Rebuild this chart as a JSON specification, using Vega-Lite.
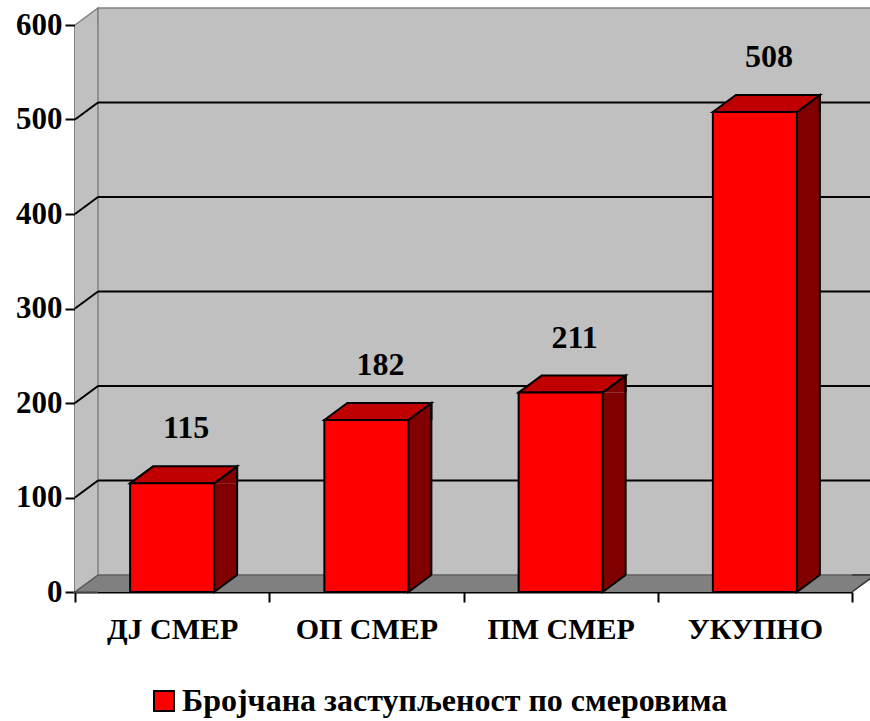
{
  "$schema": "https://vega.github.io/schema/vega-lite/v6.json",
  "width": 777,
  "height": 567,
  "autosize": {"type": "none"},
  "padding": {"left": 75, "top": 25, "right": 18, "bottom": 129},
  "background": "white",
  "config": {
    "view": {"stroke": null},
    "axis": {"grid": false, "domainColor": "black", "domainWidth": 2, "tickColor": "black", "tickWidth": 2, "tickSize": 10, "labelFont": "Liberation Serif", "labelFontWeight": "bold", "labelColor": "black", "zindex": 1},
    "axisX": {"labelFontSize": 30, "labelPadding": 12, "labelAngle": 0, "tickBand": "extent"},
    "axisY": {"labelFontSize": 31, "labelPadding": 3}
  },
  "datasets": {
    "bars": [
      {"smer": "ДЈ СМЕР", "broj": 115, "serija": "Бројчана заступљеност по смеровима"},
      {"smer": "ОП СМЕР", "broj": 182, "serija": "Бројчана заступљеност по смеровима"},
      {"smer": "ПМ СМЕР", "broj": 211, "serija": "Бројчана заступљеност по смеровима"},
      {"smer": "УКУПНО", "broj": 508, "serija": "Бројчана заступљеност по смеровима"}
    ],
    "grid": [{"v": 100}, {"v": 200}, {"v": 300}, {"v": 400}, {"v": 500}],
    "frame": [{"part": "frame"}]
  },
  "layer": [
    {
      "data": {"name": "bars"},
      "mark": {"type": "bar", "width": {"band": 0.4324}, "stroke": "black", "strokeWidth": 2, "opacity": 0},
      "encoding": {
        "x": {
          "field": "smer", "type": "nominal", "title": null,
          "scale": {"domain": ["ДЈ СМЕР", "ОП СМЕР", "ПМ СМЕР", "УКУПНО"], "paddingInner": 0, "paddingOuter": 0},
          "axis": {"title": null, "orient": "bottom"}
        },
        "y": {
          "field": "broj", "type": "quantitative", "title": null,
          "scale": {"domain": [0, 600], "nice": false},
          "axis": {"title": null, "values": [0, 100, 200, 300, 400, 500, 600]}
        }
      }
    },
    {
      "data": {"name": "frame"},
      "mark": {"type": "rule", "color": "#c0c0c0", "strokeWidth": 23, "strokeCap": "butt", "xOffset": 11.5, "y2Offset": -17},
      "encoding": {
        "x": {"datum": "ДЈ СМЕР", "type": "nominal", "bandPosition": 0, "title": null},
        "y": {"datum": 600, "type": "quantitative", "title": null},
        "y2": {"datum": 0}
      }
    },
    {
      "data": {"name": "frame"},
      "mark": {"type": "point", "shape": "M23,0 L23,-17 L0,0", "size": 4, "filled": true, "fill": "#c0c0c0", "stroke": "#808080", "strokeWidth": 1.5, "opacity": 1},
      "encoding": {
        "x": {"datum": "ДЈ СМЕР", "type": "nominal", "bandPosition": 0, "title": null},
        "y": {"datum": 600, "type": "quantitative", "title": null}
      }
    },
    {
      "data": {"name": "frame"},
      "mark": {"type": "point", "shape": "M0,-17 L23,-17 L0,0 Z", "size": 4, "filled": true, "fill": "#c0c0c0", "strokeWidth": 0, "opacity": 1},
      "encoding": {
        "x": {"datum": "ДЈ СМЕР", "type": "nominal", "bandPosition": 0, "title": null},
        "y": {"datum": 0, "type": "quantitative", "title": null}
      }
    },
    {
      "data": {"name": "frame"},
      "mark": {"type": "rule", "color": "#c0c0c0", "strokeWidth": 567, "strokeCap": "butt", "xOffset": 23, "x2Offset": 23, "yOffset": -17, "y2Offset": -17},
      "encoding": {
        "x": {"datum": "ДЈ СМЕР", "type": "nominal", "bandPosition": 0, "title": null},
        "x2": {"datum": "УКУПНО", "bandPosition": 1},
        "y": {"datum": 300, "type": "quantitative", "title": null}
      }
    },
    {
      "data": {"name": "frame"},
      "mark": {"type": "rule", "color": "#808080", "strokeWidth": 1.5, "xOffset": 23, "x2Offset": 23, "yOffset": -17, "y2Offset": -17},
      "encoding": {
        "x": {"datum": "ДЈ СМЕР", "type": "nominal", "bandPosition": 0, "title": null},
        "x2": {"datum": "УКУПНО", "bandPosition": 1},
        "y": {"datum": 600, "type": "quantitative", "title": null}
      }
    },
    {
      "data": {"name": "frame"},
      "mark": {"type": "rule", "color": "#808080", "strokeWidth": 1.5, "xOffset": 23, "yOffset": -17, "y2Offset": -17},
      "encoding": {
        "x": {"datum": "ДЈ СМЕР", "type": "nominal", "bandPosition": 0, "title": null},
        "y": {"datum": 600, "type": "quantitative", "title": null},
        "y2": {"datum": 0}
      }
    },
    {
      "data": {"name": "grid"},
      "mark": {"type": "rule", "color": "black", "strokeWidth": 2, "xOffset": 23, "x2Offset": 23, "yOffset": -17, "y2Offset": -17},
      "encoding": {
        "x": {"datum": "ДЈ СМЕР", "type": "nominal", "bandPosition": 0, "title": null},
        "x2": {"datum": "УКУПНО", "bandPosition": 1},
        "y": {"field": "v", "type": "quantitative", "title": null}
      }
    },
    {
      "data": {"name": "grid"},
      "mark": {"type": "point", "shape": "M0,0 L23,-17", "size": 4, "filled": false, "stroke": "black", "strokeWidth": 2, "opacity": 1},
      "encoding": {
        "x": {"datum": "ДЈ СМЕР", "type": "nominal", "bandPosition": 0, "title": null},
        "y": {"field": "v", "type": "quantitative", "title": null}
      }
    },
    {
      "data": {"name": "frame"},
      "mark": {"type": "rule", "color": "#808080", "strokeWidth": 17, "strokeCap": "butt", "xOffset": 23, "yOffset": -8.5, "y2Offset": -8.5},
      "encoding": {
        "x": {"datum": "ДЈ СМЕР", "type": "nominal", "bandPosition": 0, "title": null},
        "x2": {"datum": "УКУПНО", "bandPosition": 1},
        "y": {"datum": 0, "type": "quantitative", "title": null}
      }
    },
    {
      "data": {"name": "frame"},
      "mark": {"type": "rule", "color": "#606060", "strokeWidth": 1.5, "xOffset": 23, "x2Offset": 23, "yOffset": -17, "y2Offset": -17},
      "encoding": {
        "x": {"datum": "ДЈ СМЕР", "type": "nominal", "bandPosition": 0, "title": null},
        "x2": {"datum": "УКУПНО", "bandPosition": 1},
        "y": {"datum": 0, "type": "quantitative", "title": null}
      }
    },
    {
      "data": {"name": "frame"},
      "mark": {"type": "point", "shape": "M23,0 L0,0 L23,-17", "size": 4, "filled": true, "fill": "#808080", "stroke": "#555555", "strokeWidth": 1.5, "opacity": 1},
      "encoding": {
        "x": {"datum": "ДЈ СМЕР", "type": "nominal", "bandPosition": 0, "title": null},
        "y": {"datum": 0, "type": "quantitative", "title": null}
      }
    },
    {
      "data": {"name": "frame"},
      "mark": {"type": "point", "shape": "M0,0 L23,-17 L0,-17", "size": 4, "filled": true, "fill": "#808080", "stroke": "#333333", "strokeWidth": 1.5, "opacity": 1},
      "encoding": {
        "x": {"datum": "УКУПНО", "type": "nominal", "bandPosition": 1, "title": null},
        "y": {"datum": 0, "type": "quantitative", "title": null}
      }
    },
    {
      "data": {"name": "bars"},
      "mark": {"type": "rule", "color": "#800000", "strokeWidth": 23, "strokeCap": "butt", "xOffset": 53.5, "y2Offset": -17},
      "encoding": {
        "x": {"field": "smer", "type": "nominal", "title": null},
        "y": {"field": "broj", "type": "quantitative", "title": null},
        "y2": {"datum": 0}
      }
    },
    {
      "data": {"name": "bars"},
      "mark": {"type": "point", "shape": "M42,0 L65,-17 L65,0", "size": 4, "filled": true, "fill": "#800000", "stroke": "black", "strokeWidth": 2, "opacity": 1},
      "encoding": {
        "x": {"field": "smer", "type": "nominal", "title": null},
        "y": {"field": "broj", "type": "quantitative", "title": null}
      }
    },
    {
      "data": {"name": "bars"},
      "mark": {"type": "point", "shape": "M65,-17 L42,0 L42,-17", "size": 4, "filled": true, "fill": "#800000", "stroke": "black", "strokeWidth": 2, "opacity": 1},
      "encoding": {
        "x": {"field": "smer", "type": "nominal", "title": null},
        "y": {"datum": 0, "type": "quantitative", "title": null}
      }
    },
    {
      "data": {"name": "bars"},
      "mark": {"type": "rule", "color": "black", "strokeWidth": 2, "xOffset": 65, "yOffset": -17, "y2Offset": -17},
      "encoding": {
        "x": {"field": "smer", "type": "nominal", "title": null},
        "y": {"field": "broj", "type": "quantitative", "title": null},
        "y2": {"datum": 0}
      }
    },
    {
      "data": {"name": "bars"},
      "mark": {"type": "point", "shape": "M-42,0 L42,0 L65,-17 L-19,-17 Z", "size": 4, "filled": true, "fill": "#c00000", "stroke": "black", "strokeWidth": 2, "opacity": 1},
      "encoding": {
        "x": {"field": "smer", "type": "nominal", "title": null},
        "y": {"field": "broj", "type": "quantitative", "title": null}
      }
    },
    {
      "data": {"name": "bars"},
      "mark": {"type": "bar", "width": {"band": 0.4324}, "stroke": "black", "strokeWidth": 2, "opacity": 1},
      "encoding": {
        "x": {"field": "smer", "type": "nominal", "title": null},
        "y": {"field": "broj", "type": "quantitative", "title": null},
        "color": {
          "field": "serija", "type": "nominal",
          "scale": {"range": ["#ff0000"]},
          "legend": {"title": null, "orient": "none", "legendX": 73, "legendY": 660, "padding": 0, "symbolType": "square", "symbolSize": 400, "symbolStrokeColor": "black", "symbolStrokeWidth": 2, "symbolOpacity": 1, "labelFont": "Liberation Serif", "labelFontSize": 32, "labelFontWeight": "bold", "labelColor": "black", "labelOffset": 2, "labelLimit": 2000}
        }
      }
    },
    {
      "data": {"name": "bars"},
      "mark": {"type": "text", "font": "Liberation Serif", "fontSize": 32, "fontWeight": "bold", "color": "black", "dx": 14, "dy": -45, "baseline": "alphabetic", "align": "center"},
      "encoding": {
        "x": {"field": "smer", "type": "nominal", "title": null},
        "y": {"field": "broj", "type": "quantitative", "title": null},
        "text": {"field": "broj", "type": "quantitative"}
      }
    }
  ]
}
